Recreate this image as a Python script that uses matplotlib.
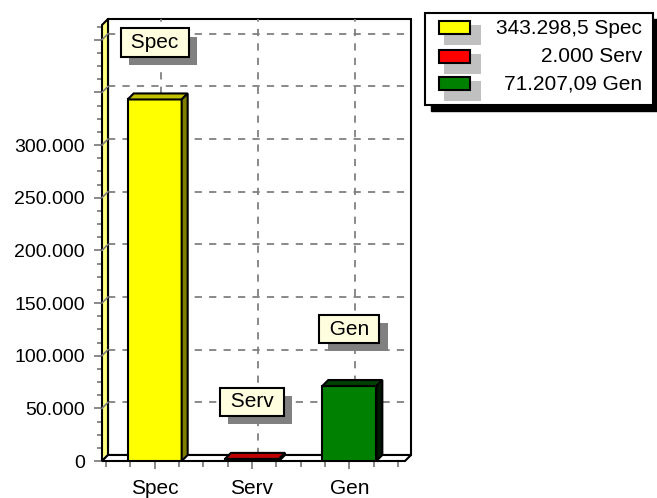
import matplotlib
matplotlib.use('Agg')
import matplotlib.pyplot as plt
from matplotlib.patches import Polygon, Rectangle
import matplotlib.patheffects as pe
import numpy as np

plt.rcParams['font.family'] = ['Liberation Sans', 'DejaVu Sans']

categories = ['Spec', 'Serv', 'Gen']
values = [343298.5, 2000, 71207.09]
front_colors = ['#FFFF00', '#FF0000', '#008000']
top_colors = ['#C0C000', '#C00000', '#004000']
side_colors = ['#808000', '#800000', '#001800']

y_tick_values = [0, 50000, 100000, 150000, 200000, 250000, 300000, 350000, 400000]
y_tick_labels = ['0', '50.000', '100.000', '150.000', '200.000', '250.000', '300.000', '', '']


def de_format(v):
    # 343,298.5 -> 343.298,5
    return f"{v:,}".replace(',', '#').replace('.', ',').replace('#', '.')


legend_labels = [de_format(v) + ' ' + c for v, c in zip(values, categories)]

W, H = 657, 498
fig = plt.figure(figsize=(W / 100, H / 100), dpi=100)
# front plane of the chart, in pixels: x 102..405, y 25..461
ax = fig.add_axes([102 / W, (H - 461) / H, 303 / W, 436 / H])
x0, x1 = -0.541, 2.572
ytop = 414000
ax.set_xlim(x0, x1)
ax.set_ylim(0, ytop)
for s in ax.spines.values():
    s.set_visible(False)
ax.patch.set_visible(False)

# depth of the 3d effect, 6 px right and up, in data units
depth_px = 6
dx = depth_px * (x1 - x0) / 303
dy = depth_px * ytop / 436

# back wall
ax.add_patch(Rectangle((x0 + dx, dy), x1 - x0, ytop, facecolor='white',
                       edgecolor='black', lw=1.5, zorder=0, clip_on=False))
# grid on back wall
for y in y_tick_values[1:]:
    ax.plot([x0 + dx, x1 + dx], [y + dy, y + dy], color='#808080', lw=1.3,
            dashes=(4, 4), zorder=1, clip_on=False)
for i in range(len(categories)):
    ax.plot([i + dx, i + dx], [dy, ytop + dy], color='#808080', lw=1.3,
            dashes=(4, 4), zorder=1, clip_on=False)
# left wall
ax.add_patch(Polygon([(x0, 0), (x0 + dx, dy), (x0 + dx, ytop + dy), (x0, ytop)],
                     closed=True, facecolor='#FFFF80', edgecolor='black', lw=1.5,
                     zorder=2, clip_on=False))
for y in y_tick_values[1:]:
    ax.plot([x0, x0 + dx], [y, y + dy], color='#808080', lw=1.2, zorder=3, clip_on=False)
# floor
ax.add_patch(Polygon([(x0, 0), (x1, 0), (x1 + dx, dy), (x0 + dx, dy)],
                     closed=True, facecolor='white', edgecolor='black', lw=1.5,
                     zorder=2, clip_on=False))

# bars
bw = 0.555
xs = np.arange(len(categories))
ax.bar(xs, values, width=bw, color=front_colors, edgecolor='black', lw=1.5, zorder=5)
for x, v, tc, sc in zip(xs, values, top_colors, side_colors):
    l, r = x - bw / 2, x + bw / 2
    ax.add_patch(Polygon([(l, v), (r, v), (r + dx, v + dy), (l + dx, v + dy)],
                         closed=True, facecolor=tc, edgecolor='black', lw=1.5, zorder=5))
    ax.add_patch(Polygon([(r, 0), (r + dx, dy), (r + dx, v + dy), (r, v)],
                         closed=True, facecolor=sc, edgecolor='black', lw=1.5, zorder=5))

# value labels with a gray drop shadow
for x, v, c in zip(xs, values, categories):
    t = ax.annotate(' ' + c + ' ', (x, v), xytext=(0, 41), textcoords='offset points',
                    ha='center', va='center', fontsize=15, color='black',
                    bbox=dict(boxstyle='square,pad=0.22', facecolor='#FFFFE0',
                              edgecolor='black', lw=1.5), zorder=9)
    t.get_bbox_patch().set_path_effects([
        pe.SimplePatchShadow(offset=(6, -6), shadow_rgbFace='#808080', alpha=1.0),
        pe.Normal()])

# ticks
ax.set_yticks(y_tick_values)
ax.set_yticklabels(y_tick_labels, fontsize=14)
ax.set_yticks(np.arange(0, ytop, 12500), minor=True)
ax.set_xticks(xs)
ax.set_xticklabels(categories, fontsize=15)
ax.set_xticks(np.arange(-0.5, 2.51, 0.25), minor=True)
ax.tick_params(axis='both', which='both', color='#808080', width=1.3, direction='out')
ax.tick_params(axis='y', which='major', length=6, pad=6.5)
ax.tick_params(axis='y', which='minor', length=3.6)
ax.tick_params(axis='x', which='major', length=6, pad=7)
ax.tick_params(axis='x', which='minor', length=4)

# legend drawn in pixel coordinates
lg = fig.add_axes([425 / W, (H - 105) / H, 228 / W, 92 / H])
lg.set_xlim(0, 228)
lg.set_ylim(92, 0)
lg.axis('off')
lg.add_patch(Rectangle((6, 6), 228, 92, facecolor='black', edgecolor='black', clip_on=False, zorder=0))
lg.add_patch(Rectangle((0, 0), 228, 92, facecolor='white', edgecolor='black', lw=1.5, clip_on=False, zorder=1))
row_y = [15, 44, 71]
for ry, col, lab in zip(row_y, front_colors, legend_labels):
    lg.add_patch(Rectangle((19, ry - 3), 37, 20, facecolor='#C0C0C0', edgecolor='none', zorder=2))
    lg.add_patch(Rectangle((14, ry - 7), 31, 13, facecolor=col, edgecolor='black', lw=1.5, zorder=3))
    lg.text(217, ry, lab, ha='right', va='center', fontsize=15, zorder=4)

fig.savefig('out.png', dpi=100)
